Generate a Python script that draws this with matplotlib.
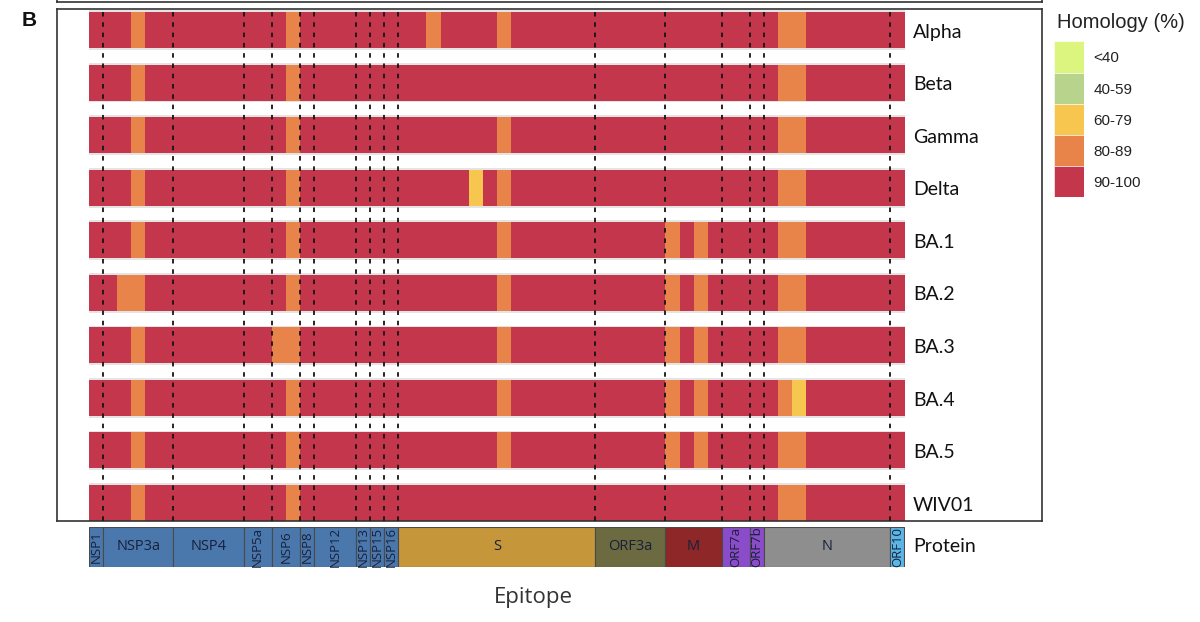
import numpy as np
import matplotlib.pyplot as plt
from matplotlib.colors import ListedColormap, BoundaryNorm

# ---------------- data ----------------
variants = ["Alpha", "Beta", "Gamma", "Delta", "BA.1", "BA.2", "BA.3", "BA.4", "BA.5", "WIV01"]

# homology class per epitope (58 epitopes), 1:<40 2:40-59 3:60-79 4:80-89 5:90-100
homology = [
    "5554555555 5555455555 5555455554 5555555555 5555555554 45555555",  # Alpha
    "5554555555 5555455555 5555555555 5555555555 5555555554 45555555",  # Beta
    "5554555555 5555455555 5555555554 5555555555 5555555554 45555555",  # Gamma
    "5554555555 5555455555 5555555354 5555555555 5555555554 45555555",  # Delta
    "5554555555 5555455555 5555555554 5555555555 5454555554 45555555",  # BA.1
    "5544555555 5555455555 5555555554 5555555555 5454555554 45555555",  # BA.2
    "5554555555 5554455555 5555555554 5555555555 5454555554 45555555",  # BA.3
    "5554555555 5555455555 5555555554 5555555555 5454555554 35555555",  # BA.4
    "5554555555 5555455555 5555555554 5555555555 5454555554 45555555",  # BA.5
    "5554555555 5555455555 5555555555 5555555555 5555555554 45555555",  # WIV01
]

legend_labels = ["<40", "40-59", "60-79", "80-89", "90-100"]
legend_colors = ["#DCF57E", "#B8D48C", "#F6C64F", "#E8844A", "#C4364C"]

proteins = ["NSP1", "NSP3a", "NSP4", "NSP5a", "NSP6", "NSP8", "NSP12", "NSP13", "NSP15",
            "NSP16", "S", "ORF3a", "M", "ORF7a", "ORF7b", "N", "ORF10"]
prot_start = [0, 1, 6, 11, 13, 15, 16, 19, 20, 21, 22, 36, 41, 45, 47, 48, 57]
prot_end = [1, 6, 11, 13, 15, 16, 19, 20, 21, 22, 36, 41, 45, 47, 48, 57, 58]
prot_colors = ["#4B78AC"] * 10 + ["#C6963A", "#6B6A40", "#8E2727", "#8A4CC8", "#8A4CC8",
                                  "#8E8E8E", "#5AB6E6"]
# --------------------------------------

W, H = 1200, 622
fig = plt.figure(figsize=(12, 6.22), dpi=100)


def px_axes(x0, y0, x1, y1):
    return fig.add_axes([x0 / W, 1 - y1 / H, (x1 - x0) / W, (y1 - y0) / H])


n_ep = prot_end[-1]
cpx = (904.5 - 89) / n_ep      # pixels per epitope cell
cmap = ListedColormap(legend_colors)
norm = BoundaryNorm(np.arange(0.5, 6.5, 1), cmap.N)

# main framed panel
ax = px_axes(57, 9, 1042, 521)
ax.set_xlim((57 - 89) / cpx, (1042 - 89) / cpx)
ax.set_ylim(9.342, -0.4)
ax.set_xticks([])
ax.set_yticks([])
for s in ax.spines.values():
    s.set_color("#333333")
    s.set_linewidth(1.2)

xe = np.arange(n_ep + 1)
h = 0.685
for i, row in enumerate(homology):
    codes = np.array([int(c) for c in row.replace(" ", "")])
    ax.barh(i, n_ep, left=0, height=h + 0.07, color="#e4e4e4", linewidth=0, zorder=1)
    ax.pcolormesh(xe, [i - h / 2, i + h / 2], codes[None, :], cmap=cmap, norm=norm,
                  shading="flat", zorder=2)
    ax.text(n_ep + (913 - 904.5) / cpx, i + 0.04, variants[i], ha="left", va="center",
            fontsize=14, family="Lato", color="#111111")

ax.vlines(prot_start[1:], -0.343, 9.42, colors="#151515", linewidth=1.3,
          linestyles=(0, (2.5, 3.2)), zorder=3, clip_on=False)

# remnant of the panel above
ax_top = px_axes(57, -20, 1042, 2)
ax_top.set_xticks([])
ax_top.set_yticks([])
ax_top.spines["top"].set_visible(False)
for s in ax_top.spines.values():
    s.set_color("#333333")
    s.set_linewidth(1.2)

# protein bar
ax_p = px_axes(89, 527, 904.5, 567)
ax_p.set_xlim(0, n_ep)
ax_p.set_ylim(-0.5, 0.5)
ax_p.axis("off")
widths = np.array(prot_end) - np.array(prot_start)
ax_p.barh(0, widths, left=prot_start, height=1, color=prot_colors,
          edgecolor="#4a4a4a", linewidth=0.8)
for name, s0, w in zip(proteins, prot_start, widths):
    rot = 90 if w <= 3 else 0
    ax_p.text(s0 + w / 2, 0, name, ha="center", va="center", rotation=rot,
              fontsize=9.5 if rot else 10.5, family="Open Sans", color="#18203a")
ax_p.text(n_ep + (913 - 904.5) / cpx, 0, "Protein", ha="left", va="center",
          fontsize=14, family="Lato", color="#111111")

fig.text(533 / W, 1 - 597 / H, "Epitope", ha="center", va="center", fontsize=16,
         family="Open Sans", color="#333333")
fig.text(22 / W, 1 - 21 / H, "B", ha="left", va="center", fontsize=15,
         fontweight="bold", family="Liberation Sans", color="#111111")

# legend
ax_l = px_axes(1053.5, 41.3, 1084, 197.3)
ax_l.barh(range(len(legend_labels)), 1, height=1, color=legend_colors,
          edgecolor="white", linewidth=0.4)
ax_l.set_xlim(0, 1)
ax_l.set_ylim(len(legend_labels) - 0.5, -0.5)
ax_l.set_xticks([])
ax_l.set_yticks(range(len(legend_labels)))
ax_l.set_yticklabels(legend_labels, fontsize=11, family="Liberation Sans", color="#222222")
ax_l.yaxis.tick_right()
ax_l.tick_params(axis="y", length=0, pad=7)
for s in ax_l.spines.values():
    s.set_visible(False)
fig.text(1057 / W, 1 - 23 / H, "Homology (%)", ha="left", va="center", fontsize=14.5,
         family="Liberation Sans", color="#222222")

fig.savefig("out.png", dpi=100)
